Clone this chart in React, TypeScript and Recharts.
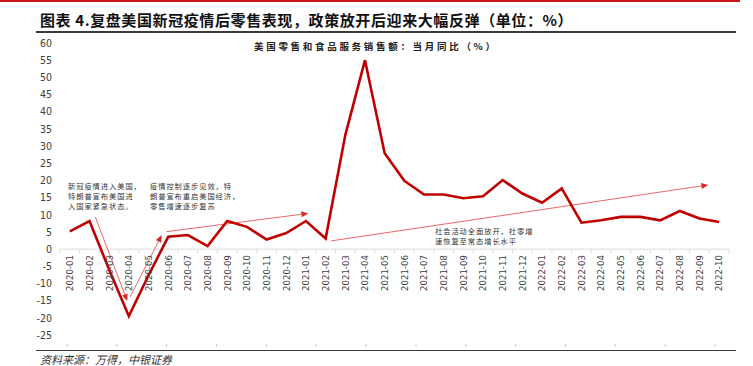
import { LineChart, Line, XAxis, YAxis, ReferenceLine } from 'recharts';

// 月份 & 美国零售和食品服务销售额 当月同比(%)
const months = [
  '2020-01', '2020-02', '2020-03', '2020-04', '2020-05', '2020-06', '2020-07', '2020-08', '2020-09', '2020-10', '2020-11', '2020-12',
  '2021-01', '2021-02', '2021-03', '2021-04', '2021-05', '2021-06', '2021-07', '2021-08', '2021-09', '2021-10', '2021-11', '2021-12',
  '2022-01', '2022-02', '2022-03', '2022-04', '2022-05', '2022-06', '2022-07', '2022-08', '2022-09', '2022-10',
];
const retailYoy = [
  5.2, 8.2, -6.0, -19.5, -7.6, 3.6, 4.1, 0.9, 8.2, 6.5, 2.8, 4.7,
  8.2, 3.1, 33.2, 55.0, 27.9, 19.9, 15.9, 15.9, 14.8, 15.4, 20.1, 16.2,
  13.5, 17.7, 7.7, 8.4, 9.4, 9.4, 8.4, 11.1, 8.9, 7.9,
];
const yTicks = [60, 55, 50, 45, 40, 35, 30, 25, 20, 15, 10, 5, 0, -5, -10, -15, -20, -25];
const monthTicks = months.map((_, i) => i);
// 底部浅色刻度（以月份序号为单位）
const bottomTicks = [-0.14, 2.39, 4.92, 7.46, 9.99, 12.52, 15.06, 17.59, 20.12, 22.66, 25.19, 27.72, 30.26, 32.79];

// 注释箭头（月份序号, 数值）
const arrows = [
  [{ x: 1.3, y: 9.3 }, { x: 2.92, y: -15.1 }],
  [{ x: 3.06, y: -13.9 }, { x: 4.67, y: 4.1 }],
  [{ x: 4.92, y: 5.1 }, { x: 12.12, y: 10.4 }],
  [{ x: 13.27, y: 2.4 }, { x: 32.45, y: 18.7 }],
];

const data = months.map((m, i) => ({ idx: i, month: m, value: retailYoy[i] }));

const W = 753;
const H = 366;
const TOP = 43;
const LEFT = 60;
const RIGHT = 24;
const BOTTOM = 15;
const Y_MIN = -27.6;
const Y_MAX = 60;
const PLOT_H = H - TOP - BOTTOM - 7;
const PLOT_W = W - LEFT - RIGHT;
const ZERO_Y = TOP + (Y_MAX / (Y_MAX - Y_MIN)) * PLOT_H;
const BAND = PLOT_W / months.length;
const X_DOMAIN = [-0.5, months.length - 0.5];

const axisFont = "'Liberation Sans Narrow', 'DejaVu Sans Condensed', 'Liberation Sans', Arial, sans-serif";
const cjkFont = "'Noto Sans CJK SC', 'Noto Sans', sans-serif";

const CatTick = (props: any) => {
  const { x, payload, index } = props;
  const half = BAND / 2;
  return (
    <g>
      <line x1={x - half} y1={ZERO_Y} x2={x - half} y2={ZERO_Y + 4} stroke="#D9D9D9" />
      {index === months.length - 1 && (
        <line x1={x + half} y1={ZERO_Y} x2={x + half} y2={ZERO_Y + 4} stroke="#D9D9D9" />
      )}
      <text
        transform={`translate(${x},${ZERO_Y + 6}) rotate(-90)`}
        textAnchor="end"
        dy="0.35em"
        fontSize={9.5}
        fontFamily={axisFont}
        style={{ fontStretch: 'condensed' }}
        fill="#404040"
      >
        {months[payload.value]}
      </text>
    </g>
  );
};

const Arrow = (props: any) => {
  const { x1, y1, x2, y2 } = props;
  const ang = Math.atan2(y2 - y1, x2 - x1);
  const len = 7;
  const w = 3;
  const bx = x2 - len * Math.cos(ang);
  const by = y2 - len * Math.sin(ang);
  const px = -Math.sin(ang) * w;
  const py = Math.cos(ang) * w;
  return (
    <g>
      <line x1={x1} y1={y1} x2={bx} y2={by} stroke="#E8696B" strokeWidth={1} />
      <polygon points={`${x2},${y2} ${bx + px},${by + py} ${bx - px},${by - py}`} fill="#D42A2A" />
    </g>
  );
};

const note = (left: number, top: number, lh: number, lines: string[]) => (
  <div
    style={{
      position: 'absolute',
      left,
      top,
      fontFamily: cjkFont,
      fontSize: 7.3,
      lineHeight: `${lh}px`,
      letterSpacing: 0.9,
      color: '#333',
      whiteSpace: 'nowrap',
    }}
  >
    {lines.map((l) => (
      <div key={l}>{l}</div>
    ))}
  </div>
);

export default function App() {
  return (
    <div style={{ position: 'absolute', left: 0, top: 0, width: W, height: H, background: '#fff', overflow: 'hidden' }}>
      <div style={{ position: 'absolute', left: 0, top: 0, width: 740, height: 2, background: '#C8151D' }} />
      <div
        style={{
          position: 'absolute',
          left: 40,
          top: 11,
          fontFamily: cjkFont,
          fontSize: 15,
          lineHeight: '18px',
          fontWeight: 700,
          letterSpacing: 0.6,
          color: '#111',
          whiteSpace: 'nowrap',
        }}
      >
        图表 4.复盘美国新冠疫情后零售表现，政策放开后迎来大幅反弹（单位：%）
      </div>
      <div style={{ position: 'absolute', left: 36, top: 31, width: 700, height: 1.5, background: '#3A3A3A' }} />

      <LineChart
        width={W}
        height={H}
        data={data}
        margin={{ top: TOP, right: RIGHT, bottom: BOTTOM, left: 0 }}
        style={{ position: 'absolute', left: 0, top: 0 }}
      >
        <XAxis
          xAxisId="b"
          dataKey="idx"
          type="number"
          domain={X_DOMAIN}
          ticks={bottomTicks}
          interval={0}
          allowDataOverflow
          axisLine={false}
          tickLine={{ stroke: '#C8C8C8' }}
          tickSize={3}
          tickFormatter={() => ''}
          height={6}
        />
        <XAxis
          xAxisId="cat"
          dataKey="idx"
          type="number"
          domain={X_DOMAIN}
          ticks={monthTicks}
          interval={0}
          allowDataOverflow
          axisLine={false}
          tickLine={false}
          tick={CatTick}
          height={1}
        />
        <YAxis
          domain={[Y_MIN, Y_MAX]}
          ticks={yTicks}
          interval={0}
          allowDataOverflow
          axisLine={false}
          tickLine={false}
          tickSize={0}
          tickMargin={8}
          width={LEFT}
          tick={{ fontSize: 10.5, fill: '#404040', fontFamily: axisFont, style: { fontStretch: 'condensed' } }}
        />
        <ReferenceLine xAxisId="cat" y={0} stroke="#D9D9D9" strokeWidth={1} />
        {arrows.map((seg, i) => (
          <ReferenceLine key={i} xAxisId="cat" segment={seg} shape={Arrow} />
        ))}
        <Line
          xAxisId="cat"
          type="linear"
          dataKey="value"
          stroke="#C00000"
          strokeWidth={2.6}
          dot={false}
          isAnimationActive={false}
        />
      </LineChart>

      <div
        style={{
          position: 'absolute',
          left: 254,
          top: 40,
          fontFamily: cjkFont,
          fontSize: 9.5,
          lineHeight: '12px',
          fontWeight: 700,
          letterSpacing: 2.7,
          color: '#222',
          whiteSpace: 'nowrap',
        }}
      >
        美国零售和食品服务销售额：当月同比（%）
      </div>
      {note(68, 181, 10, ['新冠疫情进入美国，', '特朗普宣布美国进', '入国家紧急状态。'])}
      {note(150, 181, 10, ['疫情控制逐步见效，特', '朗普宣布重启美国经济，', '零售增速逐步复苏'])}
      {note(435, 227, 9.5, ['社会活动全面放开，社零增', '速恢复至常态增长水平'])}

      <div style={{ position: 'absolute', left: 36, top: 349.5, width: 700, height: 1.5, background: '#3A3A3A' }} />
      <div
        style={{
          position: 'absolute',
          left: 40,
          top: 353,
          fontFamily: cjkFont,
          fontSize: 11,
          lineHeight: '13px',
          fontStyle: 'italic',
          color: '#333',
          whiteSpace: 'nowrap',
        }}
      >
        资料来源：万得，中银证券
      </div>
    </div>
  );
}
